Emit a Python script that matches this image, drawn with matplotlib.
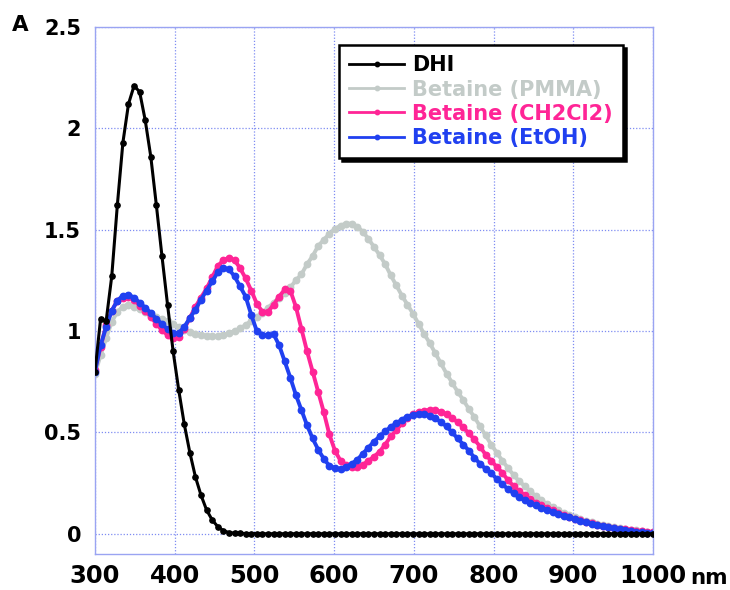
import matplotlib
matplotlib.use("Agg")
import matplotlib.pyplot as plt
import numpy as np

plt.rcParams['font.family'] = ['DejaVu Sans']
plt.rcParams['font.weight'] = 'bold'

# wavelength grid (nm), every 7 nm from 300 to 1000
wavelength = np.arange(300, 1001, 7)

dhi = [
    0.80, 1.06, 1.05, 1.27, 1.62, 1.93, 2.12, 2.21, 2.18, 2.04,   # 300
    1.86, 1.62, 1.37, 1.13, 0.90, 0.71, 0.54, 0.40, 0.28, 0.19,   # 370
    0.117, 0.068, 0.035, 0.015, 0.006, 0.003, 0.002, 0.001, 0.001, 0.001,  # 440
    0.0, 0.0, 0.0, 0.0, 0.0, 0.0, 0.0, 0.0, 0.0, 0.0,   # 510
    0.0, 0.0, 0.0, 0.0, 0.0, 0.0, 0.0, 0.0, 0.0, 0.0,   # 580
    0.0, 0.0, 0.0, 0.0, 0.0, 0.0, 0.0, 0.0, 0.0, 0.0,   # 650
    0.0, 0.0, 0.0, 0.0, 0.0, 0.0, 0.0, 0.0, 0.0, 0.0,   # 720
    0.0, 0.0, 0.0, 0.0, 0.0, 0.0, 0.0, 0.0, 0.0, 0.0,   # 790
    0.0, 0.0, 0.0, 0.0, 0.0, 0.0, 0.0, 0.0, 0.0, 0.0,   # 860
    0.0, 0.0, 0.0, 0.0, 0.0, 0.0, 0.0, 0.0, 0.0, 0.0,   # 930
    0.0,                                                # 1000
]

betaine_pmma = [
    0.79, 0.88, 0.965, 1.045, 1.095, 1.12, 1.13, 1.12, 1.11, 1.095,
    1.08, 1.068, 1.058, 1.048, 1.035, 1.02, 1.005, 0.995, 0.985, 0.98,
    0.977, 0.975, 0.976, 0.98, 0.99, 1.0, 1.013, 1.03, 1.05, 1.07,
    1.09, 1.115, 1.14, 1.165, 1.19, 1.215, 1.25, 1.28, 1.33, 1.37,
    1.42, 1.45, 1.48, 1.505, 1.52, 1.53, 1.53, 1.515, 1.49, 1.455,
    1.415, 1.375, 1.33, 1.275, 1.225, 1.175, 1.13, 1.085, 1.035, 0.985,
    0.94, 0.89, 0.84, 0.79, 0.745, 0.70, 0.66, 0.615, 0.575, 0.53,
    0.485, 0.44, 0.40, 0.36, 0.325, 0.29, 0.26, 0.235, 0.21, 0.185,
    0.165, 0.146, 0.13, 0.115, 0.102, 0.091, 0.081, 0.072, 0.064, 0.056,
    0.049, 0.043, 0.037, 0.032, 0.027, 0.023, 0.019, 0.016, 0.013, 0.011,
    0.009,
]

betaine_ch2cl2 = [
    0.81, 0.92, 1.03, 1.10, 1.15, 1.165, 1.17, 1.155, 1.125, 1.10,
    1.07, 1.035, 1.005, 0.98, 0.965, 0.97, 1.01, 1.065, 1.12, 1.165,
    1.21, 1.265, 1.32, 1.35, 1.36, 1.35, 1.31, 1.26, 1.20, 1.135,
    1.095, 1.095, 1.13, 1.17, 1.205, 1.20, 1.12, 1.01, 0.90, 0.80,
    0.70, 0.60, 0.49, 0.41, 0.36, 0.34, 0.33, 0.33, 0.34, 0.36,
    0.38, 0.405, 0.44, 0.48, 0.51, 0.545, 0.57, 0.59, 0.60, 0.607,
    0.61, 0.61, 0.60, 0.59, 0.57, 0.55, 0.525, 0.495, 0.465, 0.43,
    0.39, 0.36, 0.33, 0.30, 0.265, 0.235, 0.21, 0.19, 0.17, 0.153,
    0.14, 0.127, 0.115, 0.103, 0.093, 0.084, 0.075, 0.066, 0.058, 0.051,
    0.045, 0.039, 0.034, 0.029, 0.025, 0.021, 0.018, 0.015, 0.012, 0.01,
    0.008,
]

betaine_etoh = [
    0.80, 0.93, 1.02, 1.10, 1.15, 1.175, 1.18, 1.165, 1.14, 1.115,
    1.09, 1.06, 1.035, 1.01, 0.99, 0.99, 1.02, 1.065, 1.105, 1.155,
    1.20, 1.245, 1.29, 1.31, 1.305, 1.27, 1.22, 1.17, 1.08, 1.00,
    0.98, 0.98, 0.985, 0.93, 0.85, 0.77, 0.685, 0.61, 0.535, 0.47,
    0.415, 0.37, 0.335, 0.322, 0.32, 0.33, 0.345, 0.365, 0.395, 0.425,
    0.455, 0.48, 0.505, 0.527, 0.545, 0.563, 0.578, 0.587, 0.59, 0.59,
    0.583, 0.57, 0.55, 0.53, 0.50, 0.47, 0.44, 0.41, 0.375, 0.345,
    0.32, 0.30, 0.27, 0.245, 0.22, 0.20, 0.18, 0.165, 0.152, 0.14,
    0.128, 0.118, 0.108, 0.098, 0.089, 0.081, 0.071, 0.063, 0.056, 0.05,
    0.043, 0.037, 0.031, 0.026, 0.021, 0.017, 0.013, 0.01, 0.007, 0.005,
    0.004,
]

labels = ['DHI', 'Betaine (PMMA)', 'Betaine (CH2Cl2)', 'Betaine (EtOH)']
colors = ['#000000', '#c3cbc8', '#ff2596', '#2040f0']
xticks = [300, 400, 500, 600, 700, 800, 900, 1000]
yticks = [0, 0.5, 1, 1.5, 2, 2.5]
ytick_labels = ['0', '0.5', '1', '1.5', '2', '2.5']

grid_blue = '#7f8cf2'

fig = plt.figure(figsize=(7.3, 5.9), dpi=100)
ax = fig.add_axes([95/730, 1-554/590, 558/730, 527/590])

# colored series underneath, DHI on top
series = [dhi, betaine_pmma, betaine_ch2cl2, betaine_etoh]
for i, (y, lab, c) in enumerate(zip(series, labels, colors)):
    if i == 0:
        ax.plot(wavelength, y, color=c, lw=2.2, marker='o', ms=3.8,
                mec=c, mfc=c, zorder=5)
    else:
        ax.plot(wavelength, y, color=c, lw=2.8, marker='o', ms=4.6,
                mec=c, mfc=c, zorder=2 + i * 0.1)

ax.set_xlim(300, 1000)
ax.set_ylim(-0.1, 2.5)
ax.set_xticks(xticks)
ax.set_yticks(yticks)
ax.set_yticklabels(ytick_labels)
ax.tick_params(axis='x', length=0, pad=7, labelsize=17.5)
ax.tick_params(axis='y', length=0, pad=10, labelsize=15)
for lab in ax.get_xticklabels() + ax.get_yticklabels():
    lab.set_fontweight('bold')

ax.grid(True, color=grid_blue, linestyle=(0, (1, 1.5)), linewidth=0.9)
ax.set_axisbelow(True)
for sp in ax.spines.values():
    sp.set_color('#9aa4f2')
    sp.set_linewidth(1.0)

fig.text(690/730, 1-578/590, 'nm', fontsize=15.5, fontweight='bold',
         va='center', ha='left')
fig.text(12/730, 1-25/590, 'A', fontsize=15.5, fontweight='bold',
         va='center', ha='left')

leg_handles = []
for lab, c in zip(labels, colors):
    h, = ax.plot([], [], color=c, lw=2.0, marker='o', ms=3.2, label=lab)
    leg_handles.append(h)
leg = fig.legend(handles=leg_handles, loc='upper right',
                 bbox_to_anchor=(623/730, 1-45/590),
                 bbox_transform=fig.transFigure, borderaxespad=0,
                 fancybox=False, framealpha=1, edgecolor='black',
                 shadow={'color': 'black', 'alpha': 1},
                 prop={'size': 15, 'weight': 'bold'},
                 labelcolor='linecolor', handlelength=2.6,
                 handletextpad=0.4, labelspacing=0.2,
                 borderpad=0.5)
leg.get_frame().set_linewidth(1.8)

fig.savefig('out.png', dpi=100)
